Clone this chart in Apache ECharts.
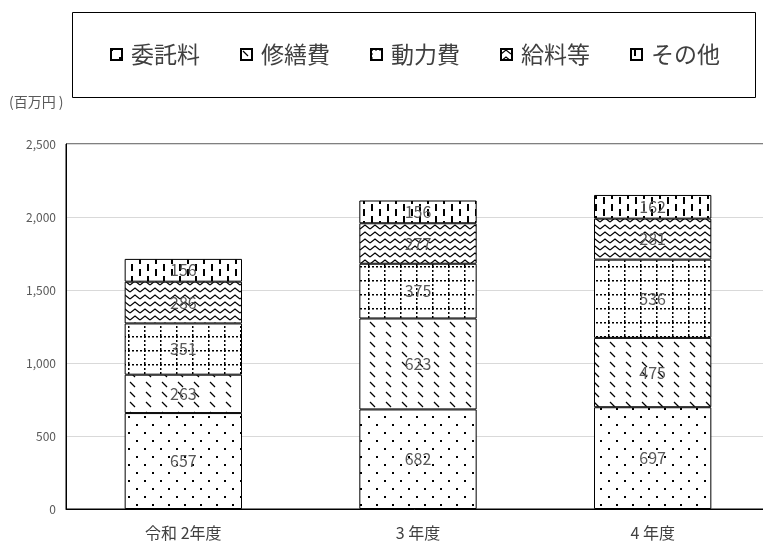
<!DOCTYPE html>
<html>
<head>
<meta charset="utf-8">
<script src="https://cdn.jsdelivr.net/npm/echarts@6/dist/echarts.min.js"></script>
<style>
  html, body { margin: 0; padding: 0; background: #fff; }
  #chart { width: 763px; height: 545px; }
</style>
</head>
<body>
<div id="chart"></div>
<script>
// データ
var categories = ['令和 2年度', '3 年度', '4 年度'];
var seriesNames = ['委託料', '修繕費', '動力費', '給料等', 'その他'];
var itakuryo = [657, 682, 697];
var shuzenhi = [263, 623, 475];
var douryokuhi = [351, 375, 536];
var kyuryo = [286, 277, 281];
var sonota = [156, 156, 162];
var yTicks = [0, 500, 1000, 1500, 2000, 2500];

// 模様タイルを作る
function makeTile(w, h, draw) {
    var c = document.createElement('canvas');
    c.width = w;
    c.height = h;
    var ctx = c.getContext('2d');
    ctx.fillStyle = '#fff';
    ctx.fillRect(0, 0, w, h);
    ctx.fillStyle = '#000';
    ctx.strokeStyle = '#000';
    draw(ctx);
    return { image: c, repeat: 'repeat' };
}

var patDots = makeTile(16, 16, function (ctx) {
    ctx.fillRect(0, 0, 2, 2);
    ctx.fillRect(8, 8, 2, 2);
});
var patDiag = makeTile(16, 10, function (ctx) {
    ctx.lineWidth = 1.3;
    ctx.beginPath();
    ctx.moveTo(2, 2);
    ctx.lineTo(7, 7);
    ctx.stroke();
});
var patGrid = makeTile(16, 14, function (ctx) {
    for (var y = 0; y < 14; y += 4) ctx.fillRect(0, y, 1.5, 2);
    for (var x = 0; x < 16; x += 4) ctx.fillRect(x, 0, 2, 1.5);
});
var patWave = makeTile(10, 7, function (ctx) {
    ctx.lineWidth = 1.2;
    ctx.beginPath();
    ctx.moveTo(0, 5);
    ctx.lineTo(5, 1);
    ctx.lineTo(10, 5);
    ctx.stroke();
});
var patTick = makeTile(16, 12, function (ctx) {
    ctx.fillRect(3, 0, 2, 7);
    ctx.fillRect(11, 5, 2, 7);
});

var myChart = echarts.init(document.getElementById('chart'));

function makeSeries(name, data, pattern) {
    return {
        name: name,
        type: 'bar',
        stack: 'total',
        barWidth: '50%',
        data: data,
        itemStyle: {
            color: pattern,
            borderColor: '#000',
            borderWidth: 1
        },
        label: {
            show: true,
            position: 'inside',
            color: '#595959',
            fontSize: 16,
            fontFamily: 'Noto Sans CJK JP'
        }
    };
}

option = {
    animation: false,
    backgroundColor: '#fff',
    textStyle: { fontFamily: 'Noto Sans CJK JP' },
    graphic: [
        {
            type: 'rect',
            shape: { x: 72.5, y: 12.5, width: 683, height: 85 },
            style: { fill: 'none', stroke: '#000', lineWidth: 1 },
            z: 0
        },
        {
            type: 'text',
            left: 9,
            top: 95,
            style: { text: '(百万円 )', fontSize: 14, fill: '#595959', fontFamily: 'Noto Sans CJK JP' }
        }
    ],
    legend: {
        left: 105,
        top: 38,
        itemWidth: 11,
        itemHeight: 11,
        itemGap: 40,
        icon: 'rect',
        data: seriesNames,
        textStyle: {
            fontSize: 23,
            color: '#404040',
            padding: [0, 0, 0, 4]
        }
    },
    grid: {
        left: 66,
        top: 144,
        width: 704,
        height: 365,
        show: true,
        borderColor: '#000',
        borderWidth: 1,
        outerBoundsMode: 'none',
        containLabel: false
    },
    xAxis: {
        type: 'category',
        data: categories,
        axisTick: { show: false },
        axisLine: { lineStyle: { color: '#000', width: 1 } },
        axisLabel: { color: '#404040', fontSize: 16, margin: 16 }
    },
    yAxis: {
        type: 'value',
        min: yTicks[0],
        max: yTicks[yTicks.length - 1],
        interval: 500,
        axisLine: { show: true, lineStyle: { color: '#000', width: 1 } },
        axisTick: { show: false },
        axisLabel: {
            color: '#595959',
            fontSize: 12,
            margin: 10,
            formatter: function (v) { return v.toLocaleString('en-US'); }
        },
        splitLine: { lineStyle: { color: '#d9d9d9', width: 1 } }
    },
    series: [
        makeSeries(seriesNames[0], itakuryo, patDots),
        makeSeries(seriesNames[1], shuzenhi, patDiag),
        makeSeries(seriesNames[2], douryokuhi, patGrid),
        makeSeries(seriesNames[3], kyuryo, patWave),
        makeSeries(seriesNames[4], sonota, patTick)
    ]
};
myChart.setOption(option);
</script>
</body>
</html>
